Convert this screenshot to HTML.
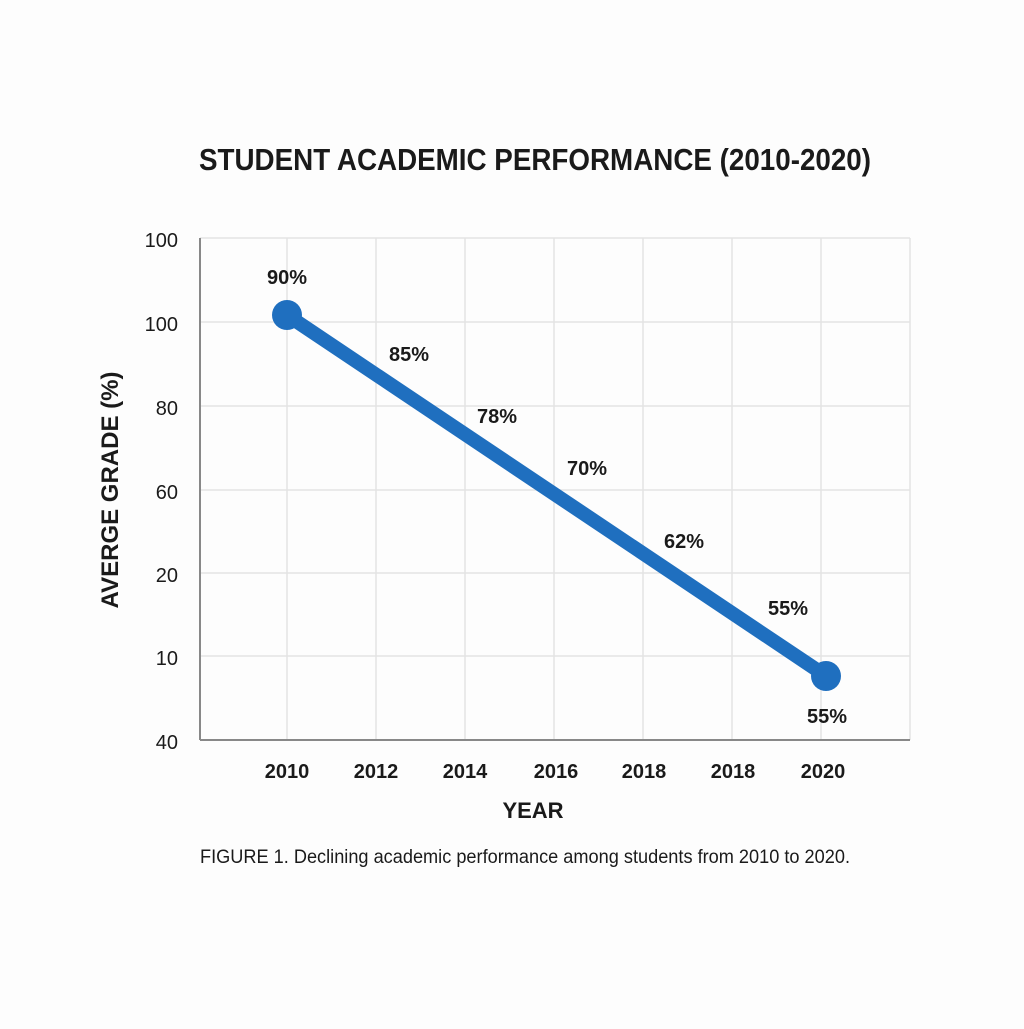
<!DOCTYPE html>
<html><head><style>
body{margin:0;background:#fdfdfd;}
svg text{font-family:"Liberation Sans",sans-serif;fill:#1a1a1a;}
</style></head><body>
<svg width="1024" height="1024" viewBox="0 0 1024 1024" xmlns="http://www.w3.org/2000/svg">
<rect width="1024" height="1024" fill="#fdfdfd"/>
<text x="535" y="170" text-anchor="middle" font-size="31" font-weight="bold" textLength="672" lengthAdjust="spacingAndGlyphs">STUDENT ACADEMIC PERFORMANCE (2010-2020)</text>
<g stroke="#e3e3e3" stroke-width="1.5">
<line x1="287" y1="238" x2="287" y2="740"/><line x1="376" y1="238" x2="376" y2="740"/>
<line x1="465" y1="238" x2="465" y2="740"/><line x1="554" y1="238" x2="554" y2="740"/>
<line x1="643" y1="238" x2="643" y2="740"/><line x1="732" y1="238" x2="732" y2="740"/>
<line x1="821" y1="238" x2="821" y2="740"/><line x1="910" y1="238" x2="910" y2="740"/>
<line x1="200" y1="238" x2="910" y2="238"/><line x1="200" y1="322" x2="910" y2="322"/>
<line x1="200" y1="406" x2="910" y2="406"/><line x1="200" y1="490" x2="910" y2="490"/>
<line x1="200" y1="573" x2="910" y2="573"/><line x1="200" y1="656" x2="910" y2="656"/>
</g>
<line x1="200" y1="238" x2="200" y2="740" stroke="#888" stroke-width="2"/>
<line x1="200" y1="740" x2="910" y2="740" stroke="#888" stroke-width="2"/>
<g font-size="20" text-anchor="end">
<text x="178" y="247">100</text><text x="178" y="331">100</text><text x="178" y="415">80</text>
<text x="178" y="499">60</text><text x="178" y="582">20</text><text x="178" y="665">10</text><text x="178" y="749">40</text>
</g>
<g font-size="20" font-weight="bold" text-anchor="middle">
<text x="287" y="778">2010</text><text x="376" y="778">2012</text><text x="465" y="778">2014</text>
<text x="556" y="778">2016</text><text x="644" y="778">2018</text><text x="733" y="778">2018</text><text x="823" y="778">2020</text>
</g>
<text x="533" y="818" font-size="22" font-weight="bold" text-anchor="middle">YEAR</text>
<text transform="translate(118,490) rotate(-90)" font-size="24" font-weight="bold" text-anchor="middle">AVERGE GRADE (%)</text>
<line x1="287" y1="315" x2="826" y2="676" stroke="#1f6fbf" stroke-width="14" stroke-linecap="round"/>
<circle cx="287" cy="315" r="15" fill="#1f6fbf"/>
<circle cx="826" cy="676" r="15" fill="#1f6fbf"/>
<g font-size="20" font-weight="bold" text-anchor="middle">
<text x="287" y="284">90%</text><text x="409" y="361">85%</text><text x="497" y="423">78%</text>
<text x="587" y="475">70%</text><text x="684" y="548">62%</text><text x="788" y="615">55%</text><text x="827" y="723">55%</text>
</g>
<text x="525" y="863" font-size="19" text-anchor="middle" fill="#222" textLength="650" lengthAdjust="spacingAndGlyphs">FIGURE 1. Declining academic performance among students from 2010 to 2020.</text>
</svg>
</body></html>
